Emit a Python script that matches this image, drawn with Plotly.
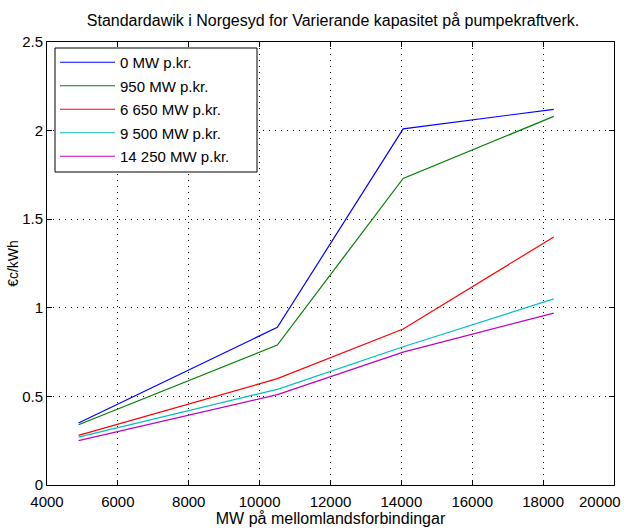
import plotly.graph_objects as go

# Interconnector capacity (MW) at which each case was simulated
mw_links = [4890, 10500, 14050, 18300]

# Standard deviation (€c/kWh) per pumped-storage capacity case
series_names = ["0 MW p.kr.", "950 MW p.kr.", "6 650 MW p.kr.", "9 500 MW p.kr.", "14 250 MW p.kr."]
dev_0 = [0.35, 0.89, 2.01, 2.12]
dev_950 = [0.34, 0.79, 1.73, 2.08]
dev_6650 = [0.28, 0.60, 0.88, 1.40]
dev_9500 = [0.27, 0.54, 0.78, 1.05]
dev_14250 = [0.25, 0.51, 0.75, 0.97]

x_ticks = [4000, 6000, 8000, 10000, 12000, 14000, 16000, 18000, 20000]
y_ticks = [0, 0.5, 1, 1.5, 2, 2.5]
y_tick_text = ["0", "0.5", "1", "1.5", "2", "2.5"]

colors = ["#0000FF", "#008000", "#FF0000", "#00BFBF", "#BF00BF"]
all_series = [dev_0, dev_950, dev_6650, dev_9500, dev_14250]

font = "Liberation Sans, Arial, sans-serif"

W, H = 624, 531
M_L, M_R, M_T, M_B = 47, 10, 42, 46
plot_w = W - M_L - M_R
plot_h = H - M_T - M_B


def px_x(px):
    """Horizontal pixel position -> paper fraction."""
    return (px - M_L) / plot_w


def px_y(py):
    """Vertical pixel position (from top) -> paper fraction."""
    return (H - M_B - py) / plot_h


fig = go.Figure()
for i, (name, vals, col) in enumerate(zip(series_names, all_series, colors)):
    fig.add_trace(go.Scatter(
        x=mw_links, y=vals, mode="lines", name=name,
        line=dict(color=col, width=1.2),
        legendgroup=f"g{i}",
    ))

axis_common = dict(
    showline=True, linecolor="black", linewidth=1, mirror="allticks",
    ticks="inside", ticklen=5, tickcolor="black", tickwidth=1,
    showgrid=True, gridcolor="black", griddash="1px,5px", gridwidth=1,
    zeroline=False, automargin=False,
    tickfont=dict(family=font, size=15, color="black"),
)

# last x tick label is right-aligned at the axis end so it stays inside the page
x_tick_text = [str(v) for v in x_ticks[:-1]] + [""]
last_x_label = dict(
    x=x_ticks[-1], xref="x", y=0, yref="paper",
    text=str(x_ticks[-1]), showarrow=False,
    xanchor="right", yanchor="top", xshift=9, yshift=-6,
    font=dict(family=font, size=15, color="black"),
)

# legend frame
legend_box = dict(
    type="rect", xref="paper", yref="paper",
    x0=px_x(55), x1=px_x(257), y0=px_y(172), y1=px_y(48),
    line=dict(color="black", width=1), fillcolor="white", layer="above",
)

fig.update_layout(
    width=W, height=H,
    margin=dict(l=M_L, r=M_R, t=M_T, b=M_B),
    paper_bgcolor="white", plot_bgcolor="white",
    title=dict(
        text="Standardawik i Norgesyd for Varierande kapasitet på pumpekraftverk.",
        font=dict(family=font, size=16, color="black"),
        x=px_x(333), xref="paper", xanchor="center", y=1 - 20 / H, yanchor="middle",
    ),
    xaxis=dict(range=[4000, 20000], tickvals=x_ticks, ticktext=x_tick_text,
               ticklabelstandoff=3,
               title=dict(text="MW på mellomlandsforbindingar", standoff=2,
                          font=dict(family=font, size=16, color="black")),
               **axis_common),
    yaxis=dict(range=[0, 2.5], tickvals=y_ticks, ticktext=y_tick_text,
               title=dict(text="€c/kWh", standoff=0,
                          font=dict(family=font, size=14, color="black")),
               **axis_common),
    shapes=[legend_box],
    annotations=[last_x_label],
    legend=dict(
        x=px_x(55), y=px_y(46), xanchor="left", yanchor="top",
        bgcolor="rgba(0,0,0,0)", borderwidth=0,
        font=dict(family=font, size=15, color="black"),
        traceorder="grouped", tracegroupgap=1,
        itemwidth=55,
    ),
    showlegend=True,
)

fig.write_html("out.html")
